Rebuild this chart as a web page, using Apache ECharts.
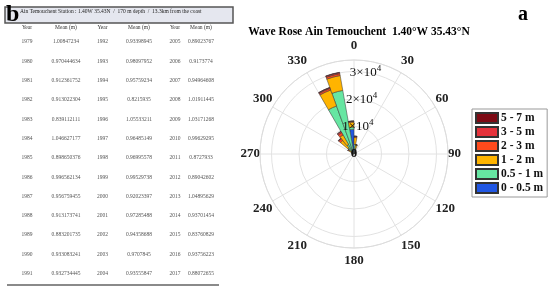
<!DOCTYPE html>
<html><head><meta charset="utf-8">
<script src="https://cdn.jsdelivr.net/npm/echarts@6/dist/echarts.min.js"></script>
<style>html,body{margin:0;padding:0;background:#fff}#c{width:550px;height:291px}</style>
</head><body><div id="c"></div>
<script>
// ---- Table data (panel b) ----
const yearsCol1 = ['1979','1980','1981','1982','1983','1984','1985','1986','1987','1988','1989','1990','1991'];
const meansCol1 = ['1.00847234','0.970444634','0.912361752','0.913022304','0.839112111','1.046627177','0.898650376','0.996562134','0.956759455','0.913173741','0.883201735','0.933083241','0.932734445'];
const yearsCol2 = ['1992','1993','1994','1995','1996','1997','1998','1999','2000','2001','2002','2003','2004'];
const meansCol2 = ['0.93398945','0.98097952','0.95759234','0.8215935','1.05533211','0.96485149','0.96995578','0.99529738','0.92023397','0.97285488','0.94358688','0.9707845','0.93555847'];
const yearsCol3 = ['2005','2006','2007','2008','2009','2010','2011','2012','2013','2014','2015','2016','2017'];
const meansCol3 = ['0.89023767','0.9173774','0.94964608','1.01911445','1.03171268','0.99629295','0.8727933','0.89042602','1.04895629','0.93701454','0.83760829','0.93756223','0.88072655'];
const tableTitle = 'Ain Temouchent Station : 1.40W 35.43N  /  170 m depth  /  13.3km from the coast';

// ---- Wave rose data (panel a) ----
const dirBins = ['5','15','25','35','45','55','65','75','85','95','105','115','125','135','145','155','165','175','185','195','205','215','225','235','245','255','265','275','285','295','305','315','325','335','345','355'];
const classNames = ['0 - 0.5 m','0.5 - 1 m','1 - 2 m','2 - 3 m','3 - 5 m','5 - 7 m'];
const h0_05 = [1500,900,400,200,0,0,0,0,0,0,0,0,0,0,0,0,0,0,0,0,0,0,0,0,0,0,0,0,50,100,200,400,500,800,1500,9000];
const h05_1 = [2000,1100,500,200,0,0,0,0,0,0,0,0,0,0,0,0,0,0,0,0,0,0,0,0,0,0,0,0,100,300,800,2500,3500,17800,22000,800];
const h1_2  = [2500,1300,500,150,0,0,0,0,0,0,0,0,0,0,0,0,0,0,0,0,0,0,0,0,0,0,0,0,100,300,1200,3500,4000,6200,5500,1800];
const h2_3  = [400,150,80,40,0,0,0,0,0,0,0,0,0,0,0,0,0,0,0,0,0,0,0,0,0,0,0,0,30,100,300,800,1000,600,700,300];
const h3_5  = [100,50,20,10,0,0,0,0,0,0,0,0,0,0,0,0,0,0,0,0,0,0,0,0,0,0,0,0,0,0,100,300,500,300,400,100];
const h5_7  = [0,0,0,0,0,0,0,0,0,0,0,0,0,0,0,0,0,0,0,0,0,0,0,0,0,0,0,0,0,0,0,0,0,100,100,0];
const classColors = ['#2157e3','#66e6a2','#ffb400','#ff4a1c','#e5323b','#7d0a14'];
const angleTicks = [0,30,60,90,120,150,180,210,240,270,300,330];

const chart = echarts.init(document.getElementById('c'));
const serif = 'Liberation Serif';
const C = [354,154], R = 94, RMAX = 34200;

// table graphics
const g = [];
g.push({type:'rect', shape:{x:5,y:7,width:228,height:16}, style:{fill:'#e5e7ef', stroke:'#555', lineWidth:1.5}});
g.push({type:'text', x:6, y:3, style:{text:'b', font:'bold 24px '+serif, fill:'#000'}});
g.push({type:'text', x:20, y:11.5, style:{text:tableTitle, font:'5.5px '+serif, fill:'#222', verticalAlign:'middle'}});
const colX = [[27,66],[102.5,139],[175,201]];
const cols = [[yearsCol1,meansCol1],[yearsCol2,meansCol2],[yearsCol3,meansCol3]];
colX.forEach((cx)=>{
  g.push({type:'text', x:cx[0], y:28, style:{text:'Year', font:'5.5px '+serif, fill:'#333', align:'center', verticalAlign:'middle'}});
  g.push({type:'text', x:cx[1], y:28, style:{text:'Mean (m)', font:'5.5px '+serif, fill:'#333', align:'center', verticalAlign:'middle'}});
});
cols.forEach((col,ci)=>{
  col[0].forEach((yr,i)=>{
    const y = 42 + i*19.3;
    g.push({type:'text', x:colX[ci][0], y:y, style:{text:yr, font:'5.5px '+serif, fill:'#555', align:'center', verticalAlign:'middle'}});
    g.push({type:'text', x:colX[ci][1], y:y, style:{text:col[1][i], font:'5.5px '+serif, fill:'#555', align:'center', verticalAlign:'middle'}});
  });
});
g.push({type:'line', shape:{x1:7,y1:285,x2:219,y2:285}, style:{stroke:'#8a8a8a', lineWidth:2}});
g.push({type:'text', x:523, y:15, style:{text:'a', font:'bold 20px '+serif, fill:'#000', align:'center', verticalAlign:'middle'}});

const seriesData = [h0_05,h05_1,h1_2,h2_3,h3_5,h5_7];
const series = seriesData.map((d,i)=>({
  type:'bar', coordinateSystem:'polar', polarIndex:0, stack:'rose', name:classNames[i],
  data:d, barCategoryGap:'0%',
  itemStyle:{color:classColors[i], borderColor:'#333', borderWidth:0.5},
  emphasis:{disabled:true}, animation:false
}));

const lab = {fontFamily:serif, fontWeight:'bold', fontSize:13, color:'#222'};
const labStyle = {
  0:'t8', 330:'t5', 30:'t5', 300:'t2', 60:'t2', 90:'m', 270:'m',
  120:'b1', 240:'b1', 150:'b4', 210:'b4', 180:'b6'
};

chart.setOption({
  animation:false,
  title:{text:'Wave Rose Ain Temouchent  1.40°W 35.43°N', left:354, top:27, textAlign:'center', textVerticalAlign:'middle',
    textStyle:{fontFamily:serif, fontWeight:'bold', fontSize:11.5, color:'#000'}},
  polar:[{center:C, radius:R},{center:C, radius:R},{center:C, radius:R}],
  angleAxis:[
    {polarIndex:0, type:'category', data:dirBins, startAngle:90, clockwise:true, boundaryGap:true,
      axisLine:{show:false}, axisTick:{show:false}, axisLabel:{show:false}, splitLine:{show:false}},
    {polarIndex:1, type:'value', min:0, max:360, interval:30, startAngle:90, clockwise:true,
      axisLine:{show:true, lineStyle:{color:'#dcdcdc', width:1}}, axisTick:{show:false},
      axisLabel:{show:true, margin:0, ...lab,
        formatter:(v)=> angleTicks.indexOf(v)>=0 ? '{'+labStyle[v]+'|'+v+'}' : '',
        rich:{
          t8:{...lab, padding:[0,0,8,0]}, t5:{...lab, padding:[0,0,5,0]}, t2:{...lab, padding:[0,0,2,0]},
          m:{...lab}, b1:{...lab, padding:[1,0,0,0]}, b4:{...lab, padding:[4,0,0,0]}, b6:{...lab, padding:[6,0,0,0]}
        }},
      splitLine:{show:true, lineStyle:{color:'#e2e2e2', width:1}}, z:0},
    {polarIndex:2, type:'value', startAngle:82, show:false}
  ],
  radiusAxis:[
    {polarIndex:0, type:'value', min:0, max:RMAX, show:false},
    {polarIndex:1, type:'value', min:0, max:RMAX, interval:10000, axisLine:{show:false}, axisTick:{show:false},
      axisLabel:{show:false}, splitLine:{show:true, lineStyle:{color:'#e2e2e2', width:1}}, z:0},
    {polarIndex:2, type:'value', min:0, max:RMAX, interval:10000, axisLine:{show:false}, axisTick:{show:false},
      splitLine:{show:false}, z:5,
      axisLabel:{show:true, margin:0, align:'center', verticalAlign:'middle', color:'#111', fontFamily:serif, fontSize:13,
        formatter:(v)=> v===0 ? '{z|0}' : (v%10000===0 ? '{n|'+(v/10000)+'×10}{s|4}' : ''),
        rich:{z:{fontFamily:serif, fontSize:13, fontWeight:'bold', color:'#111'},
              n:{fontFamily:serif, fontSize:13, color:'#111'},
              s:{fontFamily:serif, fontSize:9, color:'#111', padding:[0,0,8,0]}}}}
  ],
  legend:{orient:'vertical', left:472, top:109, itemWidth:22, itemHeight:10, itemGap:2,
    data:classNames.slice().reverse(), selectedMode:false, icon:'rect',
    padding:[3,4,3,3], borderColor:'#999', borderWidth:1, backgroundColor:'#fff',
    textStyle:{fontFamily:serif, fontWeight:'bold', fontSize:11.5, color:'#111', padding:[0,0,0,-2]}},
  graphic:g,
  series:series
});
</script></body></html>
